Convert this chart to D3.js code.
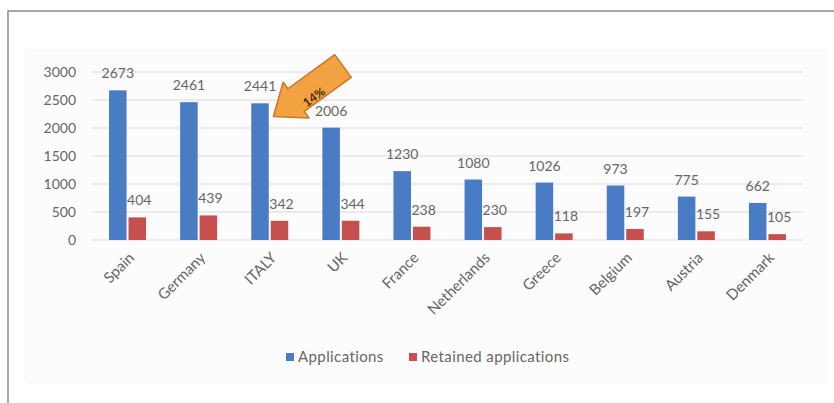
<!DOCTYPE html>
<html>
<head>
<meta charset="utf-8">
<script src="https://cdn.jsdelivr.net/npm/d3@7"></script>
<style>
  body { margin: 0; background: #fff; }
  svg { display: block; font-family: Lato, 'Open Sans', sans-serif; }
</style>
</head>
<body>
<svg width="834" height="403"></svg>
<script>
const countries = ['Spain', 'Germany', 'ITALY', 'UK', 'France', 'Netherlands', 'Greece', 'Belgium', 'Austria', 'Denmark'];
const applications = [2673, 2461, 2441, 2006, 1230, 1080, 1026, 973, 775, 662];
const retained = [404, 439, 342, 344, 238, 230, 118, 197, 155, 105];
const seriesNames = ['Applications', 'Retained applications'];
const yTicks = [0, 500, 1000, 1500, 2000, 2500, 3000];
const arrowLabel = '14%';

const colors = ['#4a7bc5', '#c6504e'];
const textColor = '#666';

const svg = d3.select('svg');

// outer frame (top + left lines)
svg.append('path')
  .attr('d', 'M 8 403 L 8 11 L 834 11')
  .attr('fill', 'none')
  .attr('stroke', '#8a8a8a')
  .attr('stroke-width', 1.5);

// chart panel
svg.append('rect')
  .attr('x', 26).attr('y', 50)
  .attr('width', 800).attr('height', 333)
  .attr('fill', '#fcfcfc')
  .attr('stroke', '#f5f5f5');

const x0 = d3.scaleBand().domain(countries).range([92, 803]).paddingInner(0.48).paddingOuter(0.24);
const x1 = d3.scaleBand().domain(seriesNames).range([0, x0.bandwidth()]).paddingInner(0.1);
const y = d3.scaleLinear().domain([0, 3000]).range([240, 72]);

// gridlines
svg.append('g')
  .selectAll('line')
  .data(yTicks)
  .join('line')
  .attr('x1', 92).attr('x2', 803)
  .attr('y1', d => y(d)).attr('y2', d => y(d))
  .attr('stroke', '#e6e6e6')
  .attr('stroke-width', 1.5);

// y axis labels
const yAxis = svg.append('g')
  .attr('transform', 'translate(76,0)')
  .call(d3.axisLeft(y).tickValues(yTicks).tickFormat(d3.format('d')).tickSize(0).tickPadding(0));
yAxis.select('.domain').remove();
yAxis.selectAll('text')
  .attr('fill', textColor)
  .attr('font-size', 14)
  .attr('font-family', 'Lato, sans-serif');

const rows = countries.map((c, i) => ({ country: c, values: [applications[i], retained[i]] }));

const groups = svg.append('g')
  .selectAll('g')
  .data(rows)
  .join('g')
  .attr('transform', d => 'translate(' + x0(d.country) + ',0)');

groups.selectAll('rect')
  .data(d => d.values.map((v, k) => ({ key: seriesNames[k], value: v, k })))
  .join('rect')
  .attr('x', d => x1(d.key))
  .attr('y', d => y(d.value))
  .attr('width', x1.bandwidth())
  .attr('height', d => y(0) - y(d.value))
  .attr('fill', d => colors[d.k]);

groups.selectAll('text.value')
  .data(d => d.values.map((v, k) => ({ key: seriesNames[k], value: v, k })))
  .join('text')
  .attr('class', 'value')
  .attr('x', d => x1(d.key) + x1.bandwidth() / 2 + (d.k ? 2 : 0))
  .attr('y', d => y(d.value) - 12)
  .attr('text-anchor', 'middle')
  .attr('fill', textColor)
  .attr('font-size', 14)
  .text(d => d.value);

// x axis labels, rotated
svg.append('g')
  .selectAll('text')
  .data(countries)
  .join('text')
  .attr('transform', d => 'translate(' + (x0(d) + x0.bandwidth() / 2 + 4) + ',255) rotate(-45)')
  .attr('text-anchor', 'end')
  .attr('dy', '0.35em')
  .attr('fill', textColor)
  .attr('font-size', 15)
  .text(d => d);

// legend
const legend = svg.append('g').attr('transform', 'translate(286,357)');
const legendX = [0, 123];
seriesNames.forEach((name, k) => {
  const g = legend.append('g').attr('transform', 'translate(' + legendX[k] + ',0)');
  g.append('rect').attr('x', 0).attr('y', -4).attr('width', 8).attr('height', 8).attr('fill', colors[k]);
  g.append('text')
    .attr('x', 12).attr('y', 0).attr('dy', '0.35em')
    .attr('fill', textColor)
    .attr('font-size', 15)
    .attr('letter-spacing', 0.4)
    .text(name);
});

// orange arrow pointing at ITALY bar
const arrow = svg.append('g').attr('transform', 'translate(343,66) rotate(144)');
arrow.append('path')
  .attr('d', 'M 0 -14 L 58 -14 L 58 -22 L 86 0 L 58 22 L 58 14 L 0 14 Z')
  .attr('fill', '#f3a241')
  .attr('stroke', '#c9772a')
  .attr('stroke-width', 1.5)
  .attr('stroke-linejoin', 'round');
svg.append('text')
  .attr('transform', 'translate(314,97) rotate(-36)')
  .attr('text-anchor', 'middle')
  .attr('dy', '0.35em')
  .attr('fill', '#4a2a10')
  .attr('font-size', 12)
  .attr('font-weight', 'bold')
  .text(arrowLabel);
</script>
</body>
</html>
